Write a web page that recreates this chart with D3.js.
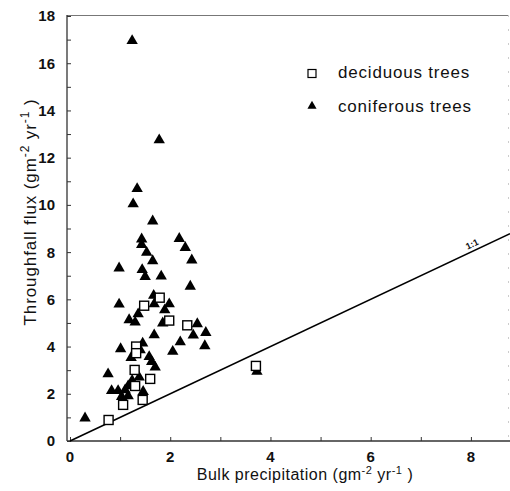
<!DOCTYPE html>
<meta charset="utf-8">
<script src="https://d3js.org/d3.v7.min.js"></script>
<style>
  body { margin: 0; background: #fff; }
  text { font-family: "Liberation Sans", Arial, sans-serif; fill: #111; }
</style>
<div id="my_dataviz"></div>
<script>
  // coniferous trees (bulk precipitation, throughfall flux)
  const coniferX = [1.24, 1.78, 1.34, 1.26, 1.65, 1.43, 1.43, 2.18, 2.30, 1.53, 1.65, 2.43, 0.98,
    1.44, 1.50, 1.82, 2.40, 1.67, 0.98, 1.68, 1.98, 1.89, 1.36, 1.18, 1.30, 1.85, 2.54, 2.71, 2.46,
    1.68, 2.20, 2.69, 2.05, 1.45, 1.01, 1.40, 1.22, 1.58, 1.63, 1.70, 0.76, 1.38, 1.24, 1.16, 0.83,
    0.96, 1.10, 1.46, 1.03, 1.16, 0.30, 3.73];
  const coniferY = [16.95, 12.75, 10.68, 10.04, 9.31, 8.55, 8.31, 8.57, 8.19, 7.98, 7.63, 7.66, 7.32,
    7.25, 6.96, 6.98, 6.55, 6.16, 5.79, 5.80, 5.80, 5.55, 5.38, 5.13, 5.03, 4.99, 4.96, 4.59, 4.48,
    4.49, 4.19, 4.03, 3.79, 4.14, 3.90, 3.86, 3.53, 3.57, 3.36, 3.12, 2.84, 2.70, 2.56, 2.33, 2.13,
    2.13, 2.16, 2.09, 1.88, 1.91, 0.97, 2.94];

  // deciduous trees
  const deciduX = [1.79, 1.48, 1.98, 2.34, 1.32, 1.32, 1.29, 1.60, 1.30, 1.06, 1.45, 0.77, 3.71];
  const deciduY = [6.07, 5.73, 5.10, 4.90, 4.00, 3.72, 3.01, 2.63, 2.33, 1.53, 1.74, 0.89, 3.18];

  const xTicks = [0, 1, 2, 3, 4, 5, 6, 7, 8];
  const xLabels = [0, 2, 4, 6, 8];
  const yTicks = d3.range(0, 19, 1);
  const yLabels = [0, 2, 4, 6, 8, 10, 12, 14, 16, 18];
  const oneToOne = [0, 8.78];

  const width = 510, height = 491;
  const svg = d3.select("#my_dataviz").append("svg")
    .attr("width", width).attr("height", height);

  const x = d3.scaleLinear().domain([0, 8.78]).range([70, 510]);
  const y = d3.scaleLinear().domain([0, 18]).range([441, 16]);

  const axisColor = "#333";

  // frame
  svg.append("line").attr("x1", 67).attr("x2", 509).attr("y1", 15.5).attr("y2", 15.5)
    .attr("stroke", "#777").attr("stroke-width", 1.2);
  svg.append("line").attr("x1", 508.5).attr("x2", 508.5).attr("y1", 15).attr("y2", 441)
    .attr("stroke", "#ccc").attr("stroke-width", 1).attr("stroke-dasharray", "2,12");

  // x axis (ticks pointing inward)
  const xAxis = svg.append("g")
    .attr("transform", `translate(0,${y(0)})`)
    .call(d3.axisBottom(x).tickValues(xTicks).tickSize(-4).tickFormat(""));
  xAxis.select(".domain").attr("stroke", axisColor).attr("stroke-width", 1.3)
    .attr("d", `M67,0H510`);
  xAxis.selectAll(".tick line").attr("stroke", axisColor);

  svg.selectAll(".xlab").data(xLabels).join("text")
    .attr("class", "xlab")
    .attr("x", d => x(d)).attr("y", 462)
    .attr("text-anchor", "middle")
    .attr("font-size", 15).attr("font-weight", "bold")
    .text(d => d);

  // y axis
  const yAxis = svg.append("g")
    .attr("transform", "translate(67,0)")
    .call(d3.axisLeft(y).tickValues(yTicks).tickSize(-4).tickFormat(""));
  yAxis.select(".domain").attr("stroke", axisColor).attr("stroke-width", 1.3)
    .attr("d", `M0,15H0V441`);
  yAxis.selectAll(".tick line").attr("stroke", axisColor);

  svg.selectAll(".ylab").data(yLabels).join("text")
    .attr("class", "ylab")
    .attr("x", 55).attr("y", d => y(d))
    .attr("dy", "0.36em")
    .attr("text-anchor", "end")
    .attr("font-size", 15).attr("font-weight", "bold")
    .text(d => d);

  // 1:1 line
  svg.append("path")
    .datum(oneToOne)
    .attr("fill", "none").attr("stroke", "#000").attr("stroke-width", 1.6)
    .attr("d", d3.line().x(d => x(d)).y(d => y(d)));

  const ang = Math.atan2(y(8) - y(0), x(8) - x(0)) * 180 / Math.PI;
  svg.append("text")
    .attr("transform", `translate(${x(8.05)},${y(8.05) - 4}) rotate(${ang})`)
    .attr("text-anchor", "middle")
    .attr("font-size", 9).attr("font-weight", "bold")
    .text("1:1");

  // coniferous triangles
  const tri = d3.symbol().type(d3.symbolTriangle).size(56);
  svg.append("g").selectAll("path")
    .data(d3.range(coniferX.length)).join("path")
    .attr("transform", i => `translate(${x(coniferX[i])},${y(coniferY[i])})`)
    .attr("d", tri)
    .attr("fill", "#000");

  // deciduous squares
  svg.append("g").selectAll("rect")
    .data(d3.range(deciduX.length)).join("rect")
    .attr("x", i => x(deciduX[i]) - 4.5).attr("y", i => y(deciduY[i]) - 4.5)
    .attr("width", 9).attr("height", 9)
    .attr("fill", "#fff").attr("stroke", "#000").attr("stroke-width", 1.4);

  // legend
  svg.append("rect").attr("x", 308).attr("y", 69.5).attr("width", 8).attr("height", 8)
    .attr("fill", "#fff").attr("stroke", "#000").attr("stroke-width", 1.2);
  svg.append("path").attr("transform", "translate(312,106)")
    .attr("d", d3.symbol().type(d3.symbolTriangle).size(36)).attr("fill", "#000");
  svg.append("text").attr("x", 338).attr("y", 78).attr("font-size", 17)
    .attr("letter-spacing", 0.8).text("deciduous trees");
  svg.append("text").attr("x", 338).attr("y", 112).attr("font-size", 17)
    .attr("letter-spacing", 0.8).text("coniferous trees");

  // axis titles
  const xt = svg.append("text").attr("x", 305).attr("y", 480)
    .attr("text-anchor", "middle").attr("font-size", 16).attr("letter-spacing", 0.5);
  xt.append("tspan").text("Bulk precipitation (gm");
  xt.append("tspan").attr("dy", -6).attr("font-size", 11).text("-2");
  xt.append("tspan").attr("dy", 6).text(" yr");
  xt.append("tspan").attr("dy", -6).attr("font-size", 11).text("-1");
  xt.append("tspan").attr("dy", 6).text(" )");

  const yt = svg.append("text")
    .attr("transform", "translate(36,212) rotate(-90)")
    .attr("text-anchor", "middle").attr("font-size", 17).attr("letter-spacing", 0.9);
  yt.append("tspan").text("Throughfall flux (gm");
  yt.append("tspan").attr("dy", -7).attr("font-size", 12).text("-2");
  yt.append("tspan").attr("dy", 7).text(" yr");
  yt.append("tspan").attr("dy", -7).attr("font-size", 12).text("-1");
  yt.append("tspan").attr("dy", 7).text(" )");
</script>
